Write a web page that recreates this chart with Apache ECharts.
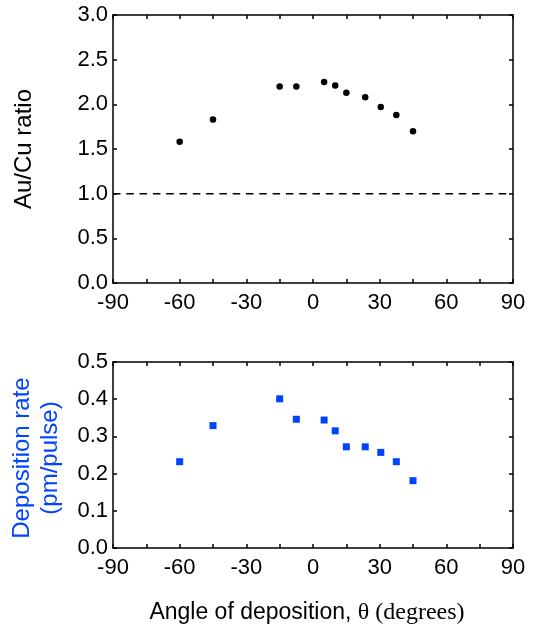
<!DOCTYPE html>
<html><head><meta charset="utf-8">
<script src="https://cdn.jsdelivr.net/npm/echarts@6/dist/echarts.min.js"></script>
<style>html,body{margin:0;padding:0;background:#fff}#c{width:533px;height:629px}</style>
</head><body><div id="c"></div>
<script>
const angles = [-60, -45, -15, -7.5, 5, 10, 15, 23.5, 30.5, 37.5, 45];
const auCuRatio = [1.58, 1.83, 2.20, 2.20, 2.25, 2.21, 2.13, 2.08, 1.97, 1.88, 1.70];
const depositionRate = [0.232, 0.329, 0.401, 0.346, 0.344, 0.315, 0.272, 0.272, 0.257, 0.232, 0.181];
const refLineX = [-90, 90];
const refLineY = [1.0, 1.0];
const xLabelStep = 30;

const FONT = 'Liberation Sans';
const BLUE = '#0044ff';
const axisLine = {show: true, onZero: false, lineStyle: {color: '#000', width: 1.5}};
const tickIn = {show: true, inside: true, length: 4, lineStyle: {color: '#000', width: 1.5}};
const lbl = {color: '#000', fontFamily: FONT, fontSize: 22};

function xAxes(gi) {
  return [
    {type: 'value', gridIndex: gi, min: -90, max: 90, interval: 15, position: 'bottom',
     axisLine, axisTick: tickIn, splitLine: {show: false},
     axisLabel: Object.assign({margin: 9, formatter: v => (v % xLabelStep === 0 ? String(v) : '')}, lbl)},
    {type: 'value', gridIndex: gi, min: -90, max: 90, interval: 15, position: 'top',
     axisLine, axisTick: tickIn, splitLine: {show: false}, axisLabel: {show: false}}
  ];
}
function yAxes(gi, min, max, interval) {
  return [
    {type: 'value', gridIndex: gi, min, max, interval, position: 'left',
     axisLine, axisTick: tickIn, splitLine: {show: false},
     axisLabel: Object.assign({margin: 5, formatter: v => v.toFixed(1)}, lbl)},
    {type: 'value', gridIndex: gi, min, max, interval, position: 'right',
     axisLine, axisTick: tickIn, splitLine: {show: false}, axisLabel: {show: false}}
  ];
}

const chart = echarts.init(document.getElementById('c'), null, {renderer: 'canvas'});
chart.setOption({
  animation: false,
  backgroundColor: '#fff',
  grid: [
    {left: 113, width: 400, top: 15, height: 268},
    {left: 113, width: 400, top: 362, height: 186}
  ],
  xAxis: [...xAxes(0), ...xAxes(1)],
  yAxis: [...yAxes(0, 0, 3, 0.5), ...yAxes(1, 0, 0.5, 0.1)],
  series: [
    {type: 'line', xAxisIndex: 0, yAxisIndex: 0, data: refLineX.map((x, i) => [x, refLineY[i]]),
     showSymbol: false, symbol: 'none', lineStyle: {color: '#000', width: 1.5, type: [7.5, 5.8]}, z: 1},
    {type: 'scatter', xAxisIndex: 0, yAxisIndex: 0, data: angles.map((a, i) => [a, auCuRatio[i]]),
     symbol: 'circle', symbolSize: 6.5, itemStyle: {color: '#000', opacity: 1}},
    {type: 'scatter', xAxisIndex: 2, yAxisIndex: 2, data: angles.map((a, i) => [a, depositionRate[i]]),
     symbol: 'rect', symbolSize: 7, itemStyle: {color: BLUE, opacity: 1}}
  ],
  graphic: [
    {type: 'text', x: 24, y: 149, rotation: Math.PI / 2,
     style: {text: 'Au/Cu ratio', fontFamily: FONT, fontSize: 24, fill: '#000', align: 'center', verticalAlign: 'middle'}},
    {type: 'text', x: 36, y: 458, rotation: Math.PI / 2,
     style: {text: 'Deposition rate\n(pm/pulse)', fontFamily: FONT, fontSize: 24, lineHeight: 28, fill: BLUE, align: 'center', verticalAlign: 'middle'}},
    {type: 'text', x: 307, y: 613,
     style: {text: '{a|Angle of deposition, }{b|θ (degrees)}', align: 'center', verticalAlign: 'middle',
       rich: {a: {fontFamily: FONT, fontSize: 23, fill: '#000'}, b: {fontFamily: 'Liberation Serif', fontSize: 24, fill: '#000'}}}}
  ]
});
</script></body></html>
